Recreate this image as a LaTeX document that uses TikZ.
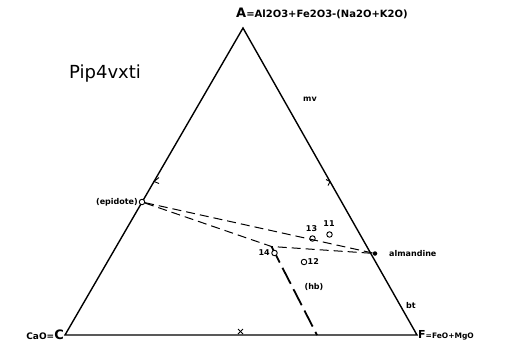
\documentclass[tikz,border=0pt]{standalone}
\usepackage{fontspec}
\setmainfont{DejaVu Sans}
\begin{document}
\begin{tikzpicture}[x=1pt,y=-1pt,
  side/.style={line width=1.4pt,line cap=round},
  tie/.style={line width=1pt,dash pattern=on 9pt off 5pt},
  hbline/.style={line width=1.8pt,dash pattern=on 18pt off 6pt},
  pt/.style={circle,draw,line width=0.9pt,fill=white,inner sep=0pt,minimum size=5.5pt},
  dotpt/.style={circle,fill=black,inner sep=0pt,minimum size=5pt},
  lab/.style={font=\bfseries\fontsize{8}{10}\selectfont,inner sep=1pt},
  mk/.style={line width=0.9pt}]
\useasboundingbox (0,0) rectangle (508,359);
% vertices
\coordinate (A) at (243,28);
\coordinate (C) at (65,335);
\coordinate (F) at (417,335);
\draw[side] (C) -- (A) -- (F) -- cycle;
% mid-side marks
\coordinate (mL) at (154,181.5);
\coordinate (mR) at (330,181.5);
\coordinate (mB) at (241,335);
\draw[mk] ([shift={(5,-4)}]mL) -- (mL) -- ([shift={(5,2)}]mL);
\draw[mk] ([shift={(-4,-2)}]mR) -- (mR) -- ([shift={(-2,4)}]mR);
\draw[mk] ([shift={(-3,-6)}]mB) -- ([shift={(2,-1)}]mB);
\draw[mk] ([shift={(2,-6)}]mB) -- ([shift={(-3,-1)}]mB);
% labels of corners
\node[anchor=south west,inner sep=0pt,font=\bfseries\fontsize{10}{12}\selectfont] (Alab) at (236,19.5) {{\fontsize{13}{14}\selectfont A}=Al2O3+Fe2O3-(Na2O+K2O)};
\node[anchor=east,inner sep=1pt,font=\bfseries\fontsize{9}{11}\selectfont] (Clab) at (C) {CaO={\fontsize{13}{14}\selectfont C}};
\node[anchor=west,inner sep=1pt,font=\bfseries\fontsize{7.5}{10}\selectfont] (Flab) at (F) {{\fontsize{11}{12}\selectfont F}=FeO+MgO};
\node[font=\fontsize{18}{21}\selectfont] (title) at (105,74) {Pip4vxti};
\node[lab] (mv) at (310,99) {mv};
\node[lab] (bt) at (411,306) {bt};
% points
\node[pt] (ep) at (142,202) {};
\node[dotpt,minimum size=4.5pt] (alm) at (375,253.5) {};
\coordinate (kink) at (271.5,246.5);
\coordinate (hbend) at (317,335);
\node[pt] (p13) at (312.5,238.5) {};
\node[pt] (p11) at (329.5,234.5) {};
\node[pt] (p12) at (304,262) {};
\node[lab,anchor=east] (ep lab) at (139,202) {(epidote)};
\node[lab,anchor=west] (alm lab) at (388,253.5) {almandine};
\node[lab] (l13) at (311.5,229) {13};
\node[lab] (l11) at (329,223.5) {11};
\node[lab,anchor=west] (l12) at (306.5,262) {12};
\node[lab] (hb) at (314,287) {(hb)};
% tie lines
\draw[tie] (ep) -- (alm);
\draw[tie] (ep) -- (kink) -- (alm);
\draw[hbline] (kink) -- (hbend);
\node[pt] (p14) at (274.5,253) {};
\node[lab,anchor=east] (l14) at (271,253) {14};
\end{tikzpicture}
\end{document}
